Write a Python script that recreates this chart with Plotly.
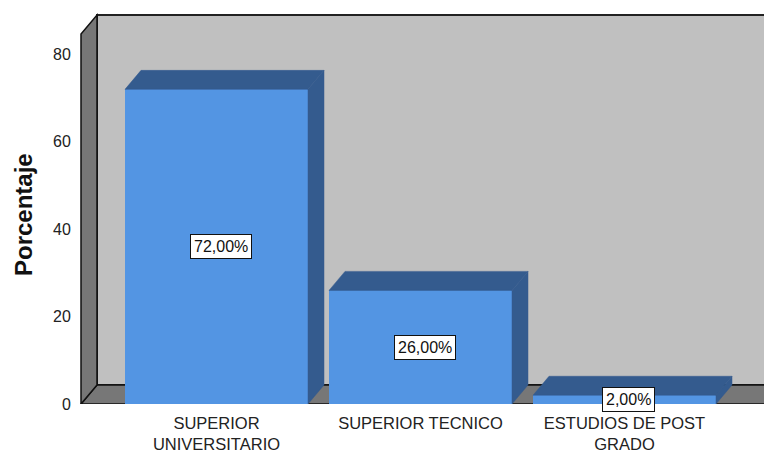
import plotly.graph_objects as go

# ---- data ----
categories = ["SUPERIOR<br>UNIVERSITARIO", "SUPERIOR TECNICO", "ESTUDIOS DE POST<br>GRADO"]
values = [72, 26, 2]
value_labels = ["72,00%", "26,00%", "2,00%"]
y_ticks = [0, 20, 40, 60, 80]

# ---- layout parameters (pixels -> data units) ----
W, H = 764, 452
ML, MB = 78, 48
plot_h = H - MB
px_per_unit = 4.37
cat0_px, cat_sp = 216.5, 204.0
x_min = (ML - cat0_px) / cat_sp
x_max = (W - cat0_px) / cat_sp
y_max = plot_h / px_per_unit
bar_w = 183 / cat_sp
dx = 16 / cat_sp
dy = 19 / px_per_unit
wall_x0 = (81 - cat0_px) / cat_sp
wall_top = (plot_h - 15) / px_per_unit

front_col = "#5395e3"
dark_col = "#345b8e"
wall_col = "#c0c0c0"
side_col = "#777777"

xs = list(range(len(values)))

fig = go.Figure()

# front faces
fig.add_trace(go.Bar(x=xs, y=values, width=bar_w, marker=dict(color=front_col, line=dict(width=0)),
                     hoverinfo="skip", showlegend=False))

# top faces and side faces (computed from the values)
tx, ty, sx, sy = [], [], [], []
for x, v in zip(xs, values):
    xl, xr = x - bar_w / 2, x + bar_w / 2
    tx += [xl, xr, xr + dx, xl + dx, xl, None]
    ty += [v, v, v + dy, v + dy, v, None]
    sx += [xr, xr, xr + dx, xr + dx, xr, None]
    sy += [0, v, v + dy, dy, 0, None]
for px_, py_ in ((tx, ty), (sx, sy)):
    fig.add_trace(go.Scatter(x=px_, y=py_, mode="lines", fill="toself", fillcolor=dark_col,
                             line=dict(color=dark_col, width=0.5), hoverinfo="skip", showlegend=False))

shapes = [
    # back wall
    dict(type="rect", xref="x", yref="y", x0=wall_x0 + dx, x1=x_max + 1, y0=dy, y1=wall_top,
         fillcolor=wall_col, line=dict(color="#222222", width=2), layer="below"),
    # floor
    dict(type="path", xref="x", yref="y",
         path=f"M {wall_x0},0 L {x_max + 1},0 L {x_max + 1 + dx},{dy} L {wall_x0 + dx},{dy} Z",
         fillcolor=side_col, line=dict(color="#111111", width=1.5), layer="below"),
    # left wall
    dict(type="path", xref="x", yref="y",
         path=f"M {wall_x0},0 L {wall_x0 + dx},{dy} L {wall_x0 + dx},{wall_top} L {wall_x0},{wall_top - dy} Z",
         fillcolor=side_col, line=dict(color="#111111", width=1.5), layer="below"),
]

annotations = []
for x, v, lab in zip(xs, values, value_labels):
    annotations.append(dict(x=x + 0.02, y=v / 2, xref="x", yref="y", text=lab, showarrow=False,
                            font=dict(family="Liberation Sans, Arial", size=16, color="#111111"),
                            bgcolor="white", bordercolor="#111111", borderwidth=1, borderpad=3))
annotations.append(dict(x=0, y=(plot_h - 215) / plot_h, xref="paper", yref="paper", xshift=23 - ML,
                        text="<b>Porcentaje</b>", textangle=-90, showarrow=False, xanchor="center",
                        yanchor="middle", font=dict(family="Liberation Sans, Arial", size=24, color="#111111")))

fig.update_layout(
    width=W, height=H,
    margin=dict(l=ML, r=0, t=0, b=MB),
    paper_bgcolor="white", plot_bgcolor="white",
    shapes=shapes, annotations=annotations,
    bargap=0,
    xaxis=dict(range=[x_min, x_max], tickvals=xs, ticktext=categories, showgrid=False, zeroline=False,
               showline=False, ticks="outside", ticklen=4, tickcolor="rgba(0,0,0,0)", automargin=False,
               tickfont=dict(family="Liberation Sans, Arial", size=16.5, color="#222222")),
    yaxis=dict(range=[0, y_max], tickvals=y_ticks, showgrid=False, zeroline=False, showline=False,
               ticks="outside", ticklen=3, tickcolor="rgba(0,0,0,0)", automargin=False,
               tickfont=dict(family="Liberation Sans, Arial", size=16, color="#222222")),
)

fig.write_html("out.html", config={"displayModeBar": False},
               post_script="document.body.style.margin='0';document.body.style.padding='0';document.body.style.overflow='hidden';")
